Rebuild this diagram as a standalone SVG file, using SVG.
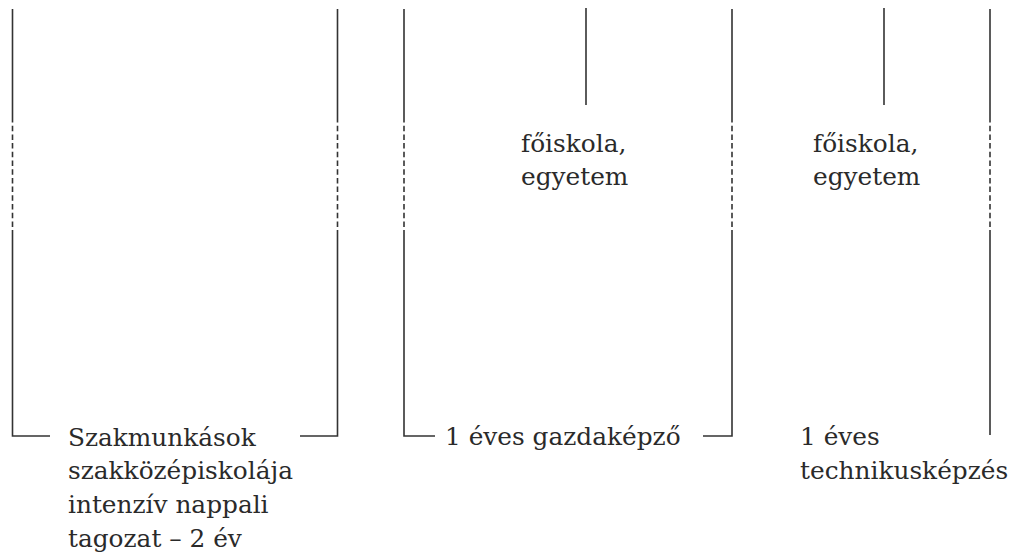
<svg xmlns="http://www.w3.org/2000/svg" width="1009" height="553" viewBox="0 0 1009 553">
<style>
.ln{stroke:#333;stroke-width:1.6;fill:none}
.ds{stroke:#333;stroke-width:1.6;fill:none;stroke-dasharray:5.5 3.2}
.t{font-family:"DejaVu Serif","Liberation Serif",serif;font-size:24.8px;fill:#2a2a2a}
</style>
<rect width="1009" height="553" fill="#fff"/>
<g id="connectors">
<path class="ln" d="M12.5 9V117M12.5 230V436H50"/>
<path class="ds" d="M12.5 117V230"/>
<path class="ln" d="M337.5 9V117M337.5 230V436H300"/>
<path class="ds" d="M337.5 117V230"/>
<path class="ln" d="M404 9V117M404 230V436H435"/>
<path class="ds" d="M404 117V230"/>
<path class="ln" d="M732 9V117M732 230V436H703"/>
<path class="ds" d="M732 117V230"/>
<path class="ln" d="M990 9V117M990 230V435"/>
<path class="ds" d="M990 117V230"/>
<path class="ln" d="M586 8V105"/>
<path class="ln" d="M884 8V105"/>
</g>
<g id="node-szakmunkasok">
<text class="t" x="68" y="446">Szakmunkások</text>
<text class="t" x="68" y="479">szakközépiskolája</text>
<text class="t" x="68" y="513">intenzív nappali</text>
<text class="t" x="68" y="547">tagozat – 2 év</text>
</g>
<g id="node-gazdakepzo">
<text class="t" x="445" y="445">1 éves gazdaképző</text>
</g>
<g id="node-technikuskepzes">
<text class="t" x="800" y="445">1 éves</text>
<text class="t" x="800" y="479">technikusképzés</text>
</g>
<g id="node-foiskola1">
<text class="t" x="521" y="152">főiskola,</text>
<text class="t" x="521" y="185">egyetem</text>
</g>
<g id="node-foiskola2">
<text class="t" x="813" y="152">főiskola,</text>
<text class="t" x="813" y="185">egyetem</text>
</g>
</svg>
